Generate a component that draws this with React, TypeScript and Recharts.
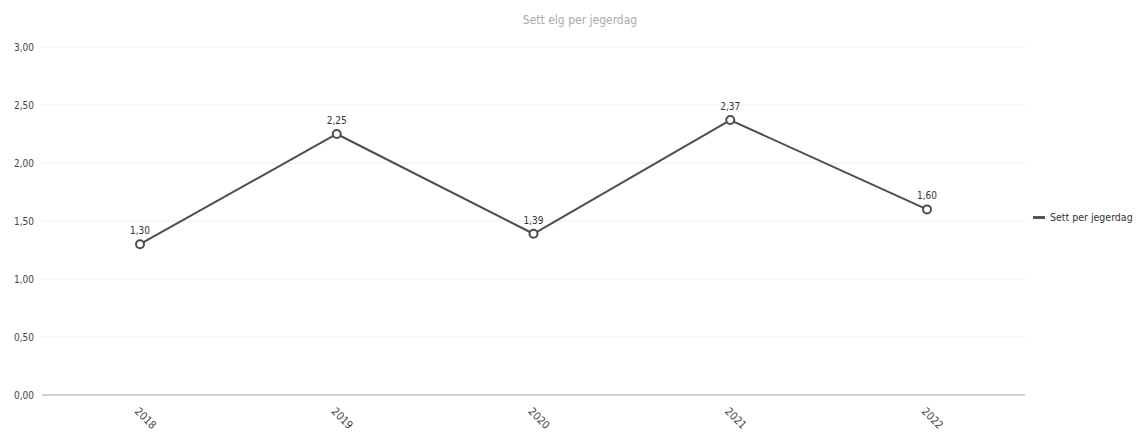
import { LineChart, Line, XAxis, YAxis, CartesianGrid, LabelList } from 'recharts';

const years = ['2018', '2019', '2020', '2021', '2022'];
const settPerJegerdag = [1.3, 2.25, 1.39, 2.37, 1.6];
const yTicks = [0, 0.5, 1, 1.5, 2, 2.5, 3];

const data = years.map((year, i) => ({ year, value: settPerJegerdag[i] }));

const FONT = '"DejaVu Sans Condensed", "Liberation Sans Narrow", "Arial Narrow", sans-serif';
const fmt = (v: number) => v.toFixed(2).replace('.', ',');

const XTick = (props: any) => {
  const { x, y, payload } = props;
  return (
    <g transform={`translate(${x - 6},${y + 9})`}>
      <text transform="rotate(45)" textAnchor="start" fontSize={11} fill="#444" fontFamily={FONT}>
        {payload.value}
      </text>
    </g>
  );
};

export default function App() {
  return (
    <div style={{ position: 'absolute', left: 0, top: 0, width: 1137, height: 435, background: '#fff' }}>
      <div
        style={{
          position: 'absolute',
          top: 13,
          left: 0,
          width: 1160,
          textAlign: 'center',
          fontFamily: FONT,
          fontSize: 12,
          color: '#aaa',
        }}
      >
        Sett elg per jegerdag
      </div>
      <div
        style={{
          position: 'absolute',
          top: 211,
          left: 1033,
          display: 'flex',
          alignItems: 'center',
          fontFamily: FONT,
          fontSize: 10.5,
          color: '#333',
          whiteSpace: 'nowrap',
        }}
      >
        <span style={{ display: 'inline-block', width: 12, height: 3, background: '#555', marginRight: 5 }} />
        Sett per jegerdag
      </div>
      <LineChart width={1137} height={435} data={data} margin={{ top: 47, right: 112, left: 0, bottom: 0 }}>
        <CartesianGrid horizontal vertical={false} stroke="#eeeeee" />
        <XAxis
          dataKey="year"
          height={40}
          padding={{ left: 98, right: 98 }}
          axisLine={{ stroke: '#aaa' }}
          tickLine={false}
          tick={<XTick />}
          interval={0}
        />
        <YAxis
          width={42}
          domain={[0, 3]}
          ticks={yTicks}
          axisLine={false}
          tickLine={false}
          tickFormatter={fmt}
          tick={{ fontSize: 10, fill: '#444', fontFamily: FONT }}
        />
        <Line
          type="linear"
          dataKey="value"
          name="Sett per jegerdag"
          stroke="#4d4d4d"
          strokeWidth={2}
          dot={{ r: 4, fill: '#fff', stroke: '#4d4d4d', strokeWidth: 2 }}
          isAnimationActive={false}
        >
          <LabelList dataKey="value" position="top" offset={10} formatter={(v: any) => fmt(Number(v))} style={{ fontSize: 10, fill: '#333', fontFamily: FONT }} />
        </Line>
      </LineChart>
    </div>
  );
}
